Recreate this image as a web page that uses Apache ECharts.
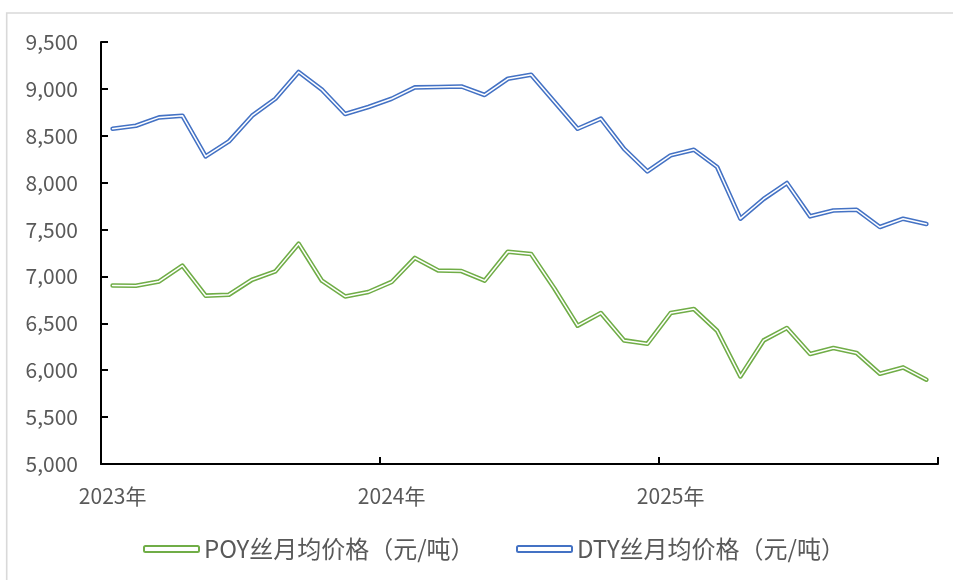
<!DOCTYPE html>
<html>
<head>
<meta charset="utf-8">
<script src="https://cdn.jsdelivr.net/npm/echarts@6/dist/echarts.min.js"></script>
<style>
  html, body { margin: 0; padding: 0; background: #fff; }
  #chart { width: 953px; height: 580px; }
</style>
</head>
<body>
<div id="chart"></div>
<script>
const categories = [
  '2023-01','2023-02','2023-03','2023-04','2023-05','2023-06','2023-07','2023-08','2023-09','2023-10','2023-11','2023-12',
  '2024-01','2024-02','2024-03','2024-04','2024-05','2024-06','2024-07','2024-08','2024-09','2024-10','2024-11','2024-12',
  '2025-01','2025-02','2025-03','2025-04','2025-05','2025-06','2025-07','2025-08','2025-09','2025-10','2025-11','2025-12'
];
const yearLabels = ['2023年', '2024年', '2025年'];
const yTicks = [5000, 5500, 6000, 6500, 7000, 7500, 8000, 8500, 9000, 9500];
const poyName = 'POY丝月均价格（元/吨）';
const dtyName = 'DTY丝月均价格（元/吨）';
const poyValues = [
  6904, 6900, 6947, 7115, 6795, 6805, 6965, 7054, 7349, 6955, 6787, 6834,
  6941, 7197, 7064, 7058, 6955, 7264, 7239, 6872, 6475, 6610, 6318, 6283,
  6610, 6653, 6421, 5934, 6318, 6450, 6173, 6237, 6184, 5963, 6030, 5899
];
const dtyValues = [
  8575, 8607, 8696, 8714, 8280, 8440, 8714, 8895, 9180, 8992, 8732, 8807,
  8895, 9016, 9020, 9026, 8935, 9108, 9151, 8864, 8575, 8682, 8360, 8120,
  8291, 8351, 8167, 7616, 7826, 7996, 7641, 7704, 7711, 7527, 7616, 7559
];

const GREEN = '#70AD47';
const BLUE = '#4472C4';
const FONT = '"Noto Sans CJK SC", "Noto Sans", sans-serif';

function doubleLine(name, data, color) {
  return [
    {
      name: name, type: 'line', data: data, symbol: 'none', silent: true,
      lineStyle: { color: color, width: 4.6, cap: 'round', join: 'round' },
      itemStyle: { color: '#fff', borderColor: color, borderWidth: 2 },
      z: 2
    },
    {
      name: name + '_inner', type: 'line', data: data, symbol: 'none', silent: true,
      lineStyle: { color: '#fff', width: 1.5, cap: 'round', join: 'round' },
      z: 3
    }
  ];
}

function legendAt(name, left) {
  return {
    data: [name],
    left: left, top: 537, padding: 0,
    itemWidth: 55, itemHeight: 6,
    icon: 'roundRect',
    textStyle: { fontFamily: FONT, fontSize: 24, color: '#595959' }
  };
}

const chart = echarts.init(document.getElementById('chart'), null, { renderer: 'canvas' });
chart.setOption({
  animation: false,
  backgroundColor: '#fff',
  graphic: [{
    type: 'rect', silent: true,
    shape: { x: 6.7, y: 13, width: 1000, height: 1000 },
    style: { fill: 'none', stroke: '#d9d9d9', lineWidth: 1.6 }
  }],
  grid: { left: 101, right: 15, top: 42, bottom: 116, containLabel: false },
  legend: [legendAt(poyName, 143), legendAt(dtyName, 516)],
  xAxis: {
    type: 'category',
    data: categories,
    boundaryGap: true,
    axisLine: { lineStyle: { color: '#000', width: 2 } },
    axisTick: { show: true, inside: true, length: 7, interval: 11, lineStyle: { color: '#000', width: 2 } },
    axisLabel: {
      interval: 11, margin: 22,
      fontFamily: FONT, fontSize: 21, color: '#595959',
      formatter: function (v, i) { return yearLabels[Math.floor(i / 12)]; }
    },
    splitLine: { show: false }
  },
  yAxis: {
    type: 'value',
    min: yTicks[0], max: yTicks[yTicks.length - 1], interval: 500,
    axisLine: { show: true, lineStyle: { color: '#000', width: 2 } },
    axisTick: { show: true, inside: true, length: 7, lineStyle: { color: '#000', width: 2 } },
    axisLabel: {
      margin: 23, fontFamily: FONT, fontSize: 21, color: '#595959',
      formatter: function (v) { return v.toLocaleString('en-US'); }
    },
    splitLine: { show: false }
  },
  series: [].concat(doubleLine(poyName, poyValues, GREEN), doubleLine(dtyName, dtyValues, BLUE))
});
</script>
</body>
</html>
